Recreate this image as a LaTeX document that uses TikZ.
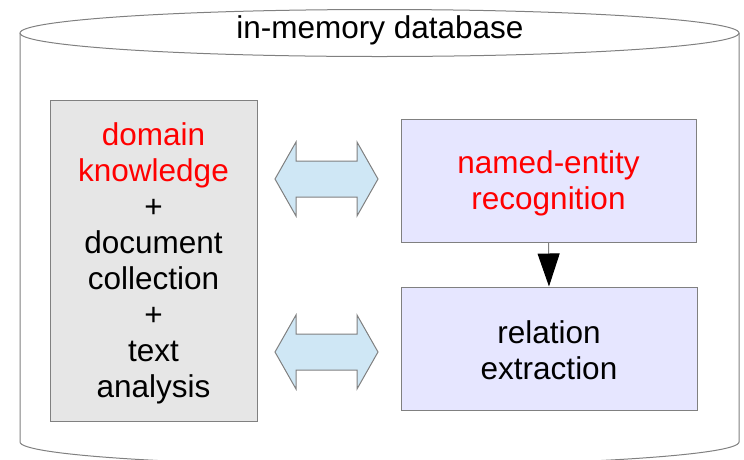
\documentclass[tikz,border=0pt]{standalone}
\usepackage{fontspec}
\setmainfont{Liberation Sans}
\usetikzlibrary{arrows.meta,calc}
\definecolor{edgegray}{HTML}{808080}
\definecolor{boxgray}{HTML}{E6E6E6}
\definecolor{boxlav}{HTML}{E6E6FF}
\definecolor{arrowblue}{HTML}{CFE7F5}
\begin{document}
\begin{tikzpicture}[x=1pt,y=-1pt,
  lbl/.style={font=\fontsize{31.5}{36}\selectfont, align=center, text=black},
  panel/.style={draw=edgegray, line width=1pt, inner sep=0pt},
  bidir/.style={draw=edgegray, fill=arrowblue, line width=1pt, line join=miter}]
\useasboundingbox (0,0) rectangle (744,459);
\clip (0,0) rectangle (744,459);
% cylinder
\draw[edgegray, line width=1pt] (20,33) -- (20,442) arc[start angle=180, end angle=0, x radius=359.5, y radius=23.5] -- (739,33);
\draw[edgegray, line width=1pt] (379.5,33) ellipse[x radius=359.5, y radius=23.5];
\node[lbl] (title) at (380,30) {in-memory database};
% left panel
\node[panel, fill=boxgray, minimum width=207pt, minimum height=321pt] (src) at (153.5,260.5) {};
\node[lbl] (srctext) at ($(src.center)+(0,2.5)$) {\textcolor{red}{domain}\\\textcolor{red}{knowledge}\\+\\document\\collection\\+\\text\\analysis};
% right panels
\node[panel, fill=boxlav, minimum width=295pt, minimum height=123pt] (ner) at (548.5,180.5) {};
\node[lbl, text=red] (nertext) at ($(ner.center)+(0,2.5)$) {named-entity\\recognition};
\node[panel, fill=boxlav, minimum width=296pt, minimum height=123pt] (rel) at (549,348.5) {};
\node[lbl] (reltext) at ($(rel.center)+(0,2)$) {relation\\extraction};
% arrow between right panels
\draw[edgegray, line width=1pt, -{Triangle[width=22pt,length=33pt,color=black]}] (ner.south) -- (rel.north);
% double arrows
\foreach \n/\cy in {a1/179, a2/352}{
  \coordinate (\n) at (326.5,\cy);
  \draw[bidir] ($(\n)+(-51.5,0)$) -- ++(21,-37) -- ++(0,19) -- ++(61,0) -- ++(0,-19) -- ++(21,37) -- ++(-21,37) -- ++(0,-19) -- ++(-61,0) -- ++(0,19) -- cycle;
}
\end{tikzpicture}
\end{document}
